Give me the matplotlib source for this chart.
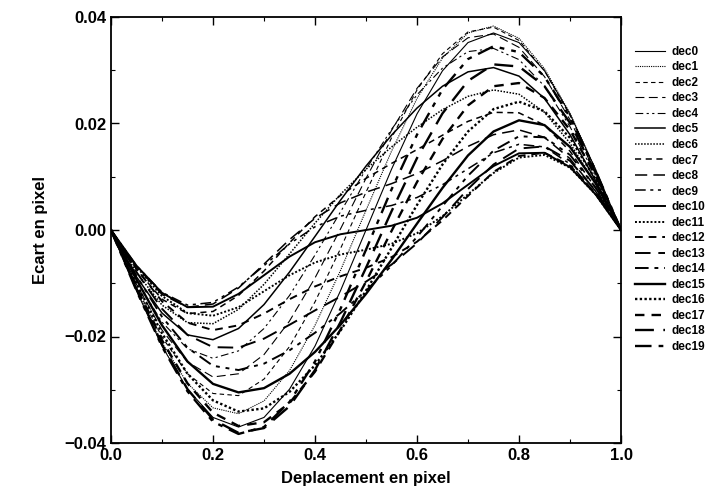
import matplotlib
matplotlib.use("Agg")
import matplotlib.pyplot as plt
from matplotlib.ticker import MultipleLocator

# deplacement (x) commun a toutes les courbes
deplacement = [0.0, 0.05, 0.10, 0.15, 0.20, 0.25, 0.30, 0.35, 0.40, 0.45, 0.50,
               0.55, 0.60, 0.65, 0.70, 0.75, 0.80, 0.85, 0.90, 0.95, 1.0]

# ecart, une liste par decalage
dec0 = [0, -0.0114, -0.0218, -0.0299, -0.0352, -0.0370, -0.0352, -0.0299, -0.0218, -0.0114, 0,
        0.0114, 0.0218, 0.0299, 0.0352, 0.0370, 0.0352, 0.0299, 0.0218, 0.0114, 0]
dec1 = [0, -0.0112, -0.0212, -0.0288, -0.0334, -0.0345, -0.0321, -0.0264, -0.0179, -0.0076, 0.0037,
        0.0148, 0.0247, 0.0323, 0.0370, 0.0383, 0.0360, 0.0303, 0.0219, 0.0114, 0]
dec2 = [0, -0.0108, -0.0201, -0.0270, -0.0307, -0.0311, -0.0280, -0.0219, -0.0135, -0.0035, 0.0071,
        0.0173, 0.0263, 0.0331, 0.0372, 0.0381, 0.0356, 0.0299, 0.0215, 0.0111, 0]
dec3 = [0, -0.0102, -0.0188, -0.0248, -0.0276, -0.0270, -0.0234, -0.0171, -0.0090, 0.0002, 0.0097,
        0.0187, 0.0266, 0.0325, 0.0361, 0.0368, 0.0343, 0.0288, 0.0207, 0.0107, 0]
dec4 = [0, -0.0095, -0.0173, -0.0223, -0.0241, -0.0227, -0.0185, -0.0123, -0.0047, 0.0034, 0.0114,
        0.0189, 0.0254, 0.0304, 0.0335, 0.0341, 0.0320, 0.0270, 0.0194, 0.0101, 0]
dec5 = [0, -0.0088, -0.0156, -0.0197, -0.0206, -0.0185, -0.0140, -0.0079, -0.0012, 0.0056, 0.0120,
        0.0178, 0.0229, 0.0270, 0.0297, 0.0305, 0.0289, 0.0247, 0.0179, 0.0093, 0]
dec6 = [0, -0.0080, -0.0141, -0.0174, -0.0176, -0.0149, -0.0102, -0.0045, 0.0013, 0.0067, 0.0114,
        0.0156, 0.0193, 0.0226, 0.0251, 0.0263, 0.0255, 0.0221, 0.0163, 0.0086, 0]
dec7 = [0, -0.0074, -0.0130, -0.0157, -0.0153, -0.0123, -0.0077, -0.0024, 0.0025, 0.0065, 0.0097,
        0.0125, 0.0151, 0.0178, 0.0204, 0.0221, 0.0220, 0.0197, 0.0148, 0.0079, 0]
dec8 = [0, -0.0069, -0.0121, -0.0145, -0.0139, -0.0109, -0.0064, -0.0018, 0.0022, 0.0051, 0.0071,
        0.0087, 0.0106, 0.0130, 0.0157, 0.0179, 0.0188, 0.0174, 0.0134, 0.0073, 0]
dec9 = [0, -0.0067, -0.0117, -0.0141, -0.0136, -0.0107, -0.0067, -0.0026, 0.0006, 0.0026, 0.0037,
        0.0046, 0.0061, 0.0085, 0.0115, 0.0145, 0.0161, 0.0156, 0.0124, 0.0069, 0]
dec10 = [0, -0.0067, -0.0118, -0.0145, -0.0144, -0.0120, -0.0085, -0.0050, -0.0023, -0.0008, 0,
         0.0008, 0.0023, 0.0050, 0.0085, 0.0120, 0.0144, 0.0145, 0.0118, 0.0067, 0]
dec11 = [0, -0.0069, -0.0124, -0.0156, -0.0161, -0.0145, -0.0115, -0.0085, -0.0061, -0.0046, -0.0037,
         -0.0026, -0.0006, 0.0026, 0.0067, 0.0107, 0.0136, 0.0141, 0.0117, 0.0067, 0]
dec12 = [0, -0.0073, -0.0134, -0.0174, -0.0188, -0.0179, -0.0157, -0.0130, -0.0106, -0.0087, -0.0071,
         -0.0051, -0.0022, 0.0018, 0.0064, 0.0109, 0.0139, 0.0145, 0.0121, 0.0069, 0]
dec13 = [0, -0.0079, -0.0148, -0.0197, -0.0220, -0.0221, -0.0204, -0.0178, -0.0151, -0.0125, -0.0097,
         -0.0065, -0.0025, 0.0024, 0.0077, 0.0123, 0.0153, 0.0157, 0.0130, 0.0074, 0]
dec14 = [0, -0.0086, -0.0163, -0.0221, -0.0255, -0.0263, -0.0251, -0.0226, -0.0193, -0.0156, -0.0114,
         -0.0067, -0.0013, 0.0045, 0.0102, 0.0149, 0.0176, 0.0174, 0.0141, 0.0080, 0]
dec15 = [0, -0.0093, -0.0179, -0.0247, -0.0289, -0.0305, -0.0297, -0.0270, -0.0229, -0.0178, -0.0120,
         -0.0056, 0.0012, 0.0079, 0.0140, 0.0185, 0.0206, 0.0197, 0.0156, 0.0088, 0]
dec16 = [0, -0.0101, -0.0194, -0.0270, -0.0320, -0.0341, -0.0335, -0.0304, -0.0254, -0.0189, -0.0114,
         -0.0034, 0.0047, 0.0123, 0.0185, 0.0227, 0.0241, 0.0223, 0.0173, 0.0095, 0]
dec17 = [0, -0.0107, -0.0207, -0.0288, -0.0343, -0.0368, -0.0361, -0.0325, -0.0266, -0.0187, -0.0097,
         -0.0002, 0.0090, 0.0171, 0.0234, 0.0270, 0.0276, 0.0248, 0.0188, 0.0102, 0]
dec18 = [0, -0.0111, -0.0215, -0.0299, -0.0356, -0.0381, -0.0372, -0.0331, -0.0263, -0.0173, -0.0071,
         0.0035, 0.0135, 0.0219, 0.0280, 0.0311, 0.0307, 0.0270, 0.0201, 0.0108, 0]
dec19 = [0, -0.0114, -0.0219, -0.0303, -0.0360, -0.0383, -0.0370, -0.0323, -0.0247, -0.0148, -0.0037,
         0.0076, 0.0179, 0.0264, 0.0321, 0.0345, 0.0334, 0.0288, 0.0212, 0.0112, 0]

courbes = [dec0, dec1, dec2, dec3, dec4, dec5, dec6, dec7, dec8, dec9,
           dec10, dec11, dec12, dec13, dec14, dec15, dec16, dec17, dec18, dec19]

# styles type gnuplot : 5 motifs, epaisseur qui augmente
motifs = ['-', (0, (1, 1)), (0, (4, 3)), (0, (8, 4)), (0, (7, 3, 2, 3, 2, 3))]
epaisseurs = [0.8, 1.1, 1.4, 1.7]

plt.rcParams['font.family'] = ['Liberation Sans', 'DejaVu Sans']

fig = plt.figure(figsize=(7.13, 4.95), dpi=100)
ax = fig.add_axes([111/713, 52/495, 510/713, 426/495])

for i, y in enumerate(courbes):
    ax.plot(deplacement, y, color='black', linestyle=motifs[i % 5],
            linewidth=epaisseurs[i // 5], label='dec%d' % i)

ax.set_xlim(0, 1)
ax.set_ylim(-0.04, 0.04)
ax.xaxis.set_major_locator(MultipleLocator(0.2))
ax.xaxis.set_minor_locator(MultipleLocator(0.1))
ax.yaxis.set_major_locator(MultipleLocator(0.02))
ax.yaxis.set_minor_locator(MultipleLocator(0.01))
ax.tick_params(which='both', direction='in', top=True, right=True)
ax.tick_params(which='major', length=6, width=1)
ax.tick_params(which='minor', length=3, width=0.8)
ax.set_xticklabels(['%.1f' % t for t in ax.get_xticks()], fontsize=12, fontweight='bold')
ax.set_yticklabels([('%.2f' % t).replace('-', '\u2212') for t in ax.get_yticks()],
                   fontsize=12, fontweight='bold')
for s in ax.spines.values():
    s.set_linewidth(1.3)

ax.set_xlabel('Deplacement en pixel', fontsize=12, fontweight='bold', labelpad=6)
ax.set_ylabel('Ecart en pixel', fontsize=12, fontweight='bold', labelpad=12)

fig.legend(loc='upper left', bbox_to_anchor=(630/713, 1 - 41/495), frameon=False,
           prop={'size': 8.5, 'weight': 'bold'}, handlelength=2.6, handletextpad=0.5,
           labelspacing=0.3, borderaxespad=0)

fig.savefig('out.png', dpi=100)
